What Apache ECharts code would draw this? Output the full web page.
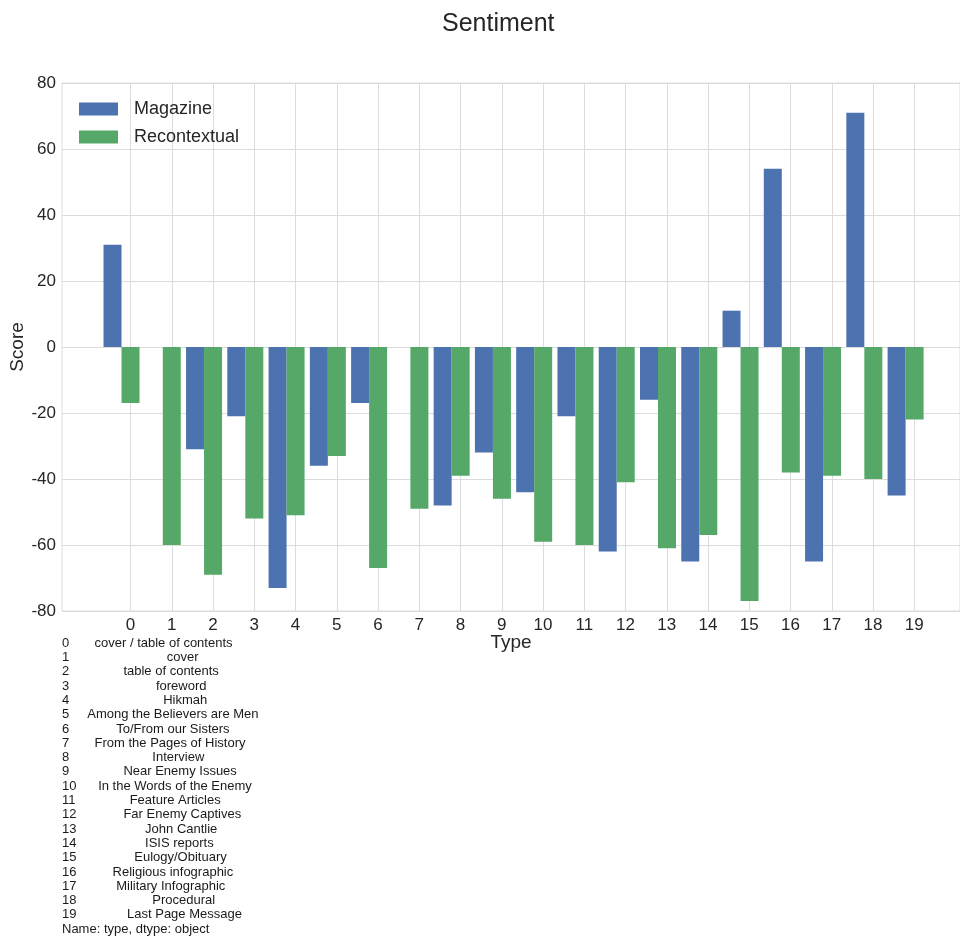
<!DOCTYPE html>
<html>
<head>
<meta charset="utf-8">
<title>Sentiment</title>
<script src="https://cdn.jsdelivr.net/npm/echarts@6/dist/echarts.min.js"></script>
<style>
html,body{margin:0;padding:0;background:#fff;}
#chart{width:960px;height:936px;}
</style>
</head>
<body>
<div id="chart"></div>
<script>
// type index 0..19
var typeIds = [0,1,2,3,4,5,6,7,8,9,10,11,12,13,14,15,16,17,18,19];
var typeNames = [
	'cover / table of contents','cover','table of contents','foreword','Hikmah',
	'Among the Believers are Men','To/From our Sisters','From the Pages of History','Interview','Near Enemy Issues',
	'In the Words of the Enemy','Feature Articles','Far Enemy Captives','John Cantlie','ISIS reports',
	'Eulogy/Obituary','Religious infographic','Military Infographic','Procedural','Last Page Message'
];
var magazine = [31,null,-31,-21,-73,-36,-17,null,-48,-32,-44,-21,-62,-16,-65,11,54,-65,71,-45];
var recontextual = [-17,-60,-69,-52,-51,-33,-67,-49,-39,-46,-59,-60,-41,-61,-57,-77,-38,-39,-40,-22];
var yTicks = {min:-80, max:80, step:20};

var FONT = '"Liberation Sans", Arial, sans-serif';
var TXT = '#262626';
var GRID = '#dcdcdc';

function pairs(vals){
	var out = [];
	for(var i=0;i<typeIds.length;i++){
		out.push(vals[i]==null ? [typeIds[i], '-'] : [typeIds[i], vals[i]]);
	}
	return out;
}

// pandas style listing below the chart
var width = 0;
for(var i=0;i<typeNames.length;i++){ if(typeNames[i].length>width) width = typeNames[i].length; }
var lines = [];
for(var i=0;i<typeIds.length;i++){
	var idx = String(typeIds[i]);
	while(idx.length<2) idx += ' ';
	var nm = typeNames[i];
	while(nm.length<width) nm = ' ' + nm;
	lines.push(idx + '    ' + nm);
}
lines.push('Name: type, dtype: object');

var chart = echarts.init(document.getElementById('chart'));
var option = {
	backgroundColor:'#fff',
	animation:false,
	title:{
		text:'Sentiment',
		left:437, top:7,
		textStyle:{fontFamily:FONT, fontSize:25, fontWeight:'normal', color:TXT}
	},
	legend:{
		data:['Magazine','Recontextual'],
		orient:'vertical',
		left:74, top:95,
		itemWidth:39, itemHeight:13, itemGap:10,
		icon:'rect',
		textStyle:{fontFamily:FONT, fontSize:18, color:TXT, lineHeight:18, padding:[0,0,0,11]}
	},
	grid:[
		{left:62, right:0, top:83, height:528, show:true, borderColor:GRID, borderWidth:1, containLabel:false, outerBoundsMode:'none'},
		{left:130.5, right:45.7, top:83, height:528, containLabel:false, outerBoundsMode:'none'}
	],
	xAxis:[
		{
			gridIndex:0, type:'value', min:-1.66, max:20.1,
			axisLine:{show:false}, axisTick:{show:false}, axisLabel:{show:false}, splitLine:{show:false},
			name:'Type', nameLocation:'middle', nameGap:22, nameMoveOverlap:false,
			nameTextStyle:{fontFamily:FONT, fontSize:19, color:TXT}
		},
		{
			gridIndex:1, type:'value', min:typeIds[0], max:typeIds[typeIds.length-1], interval:1,
			axisLine:{show:false}, axisTick:{show:false},
			axisLabel:{fontFamily:FONT, fontSize:17, color:TXT, margin:6},
			splitLine:{show:true, lineStyle:{color:GRID, width:1}}
		}
	],
	yAxis:[
		{
			gridIndex:0, type:'value', min:yTicks.min, max:yTicks.max, interval:yTicks.step,
			axisLine:{show:false}, axisTick:{show:false},
			axisLabel:{fontFamily:FONT, fontSize:17, color:TXT, margin:6},
			splitLine:{show:true, lineStyle:{color:GRID, width:1}},
			name:'Score', nameLocation:'middle', nameGap:35, nameMoveOverlap:false,
			nameTextStyle:{fontFamily:FONT, fontSize:19, color:TXT}
		},
		{gridIndex:1, type:'value', min:yTicks.min, max:yTicks.max, show:false}
	],
	series:[
		{
			name:'Magazine', type:'bar', xAxisIndex:0, yAxisIndex:0,
			barWidth:18, barGap:'0%',
			itemStyle:{color:'#4C72B0'},
			data:pairs(magazine)
		},
		{
			name:'Recontextual', type:'bar', xAxisIndex:0, yAxisIndex:0,
			barWidth:18, barGap:'0%',
			itemStyle:{color:'#55A868'},
			data:pairs(recontextual)
		},
		{
			// empty slot so the pair sits left of each tick
			name:'_pad', type:'bar', xAxisIndex:0, yAxisIndex:0,
			barWidth:18, barGap:'0%',
			data:[]
		}
	],
	graphic:[{
		type:'text', left:62, top:636,
		style:{text:lines.join('\n'), font:'13px ' + FONT, fill:'#1a1a1a', lineHeight:14.3}
	}]
};
chart.setOption(option);
</script>
</body>
</html>
